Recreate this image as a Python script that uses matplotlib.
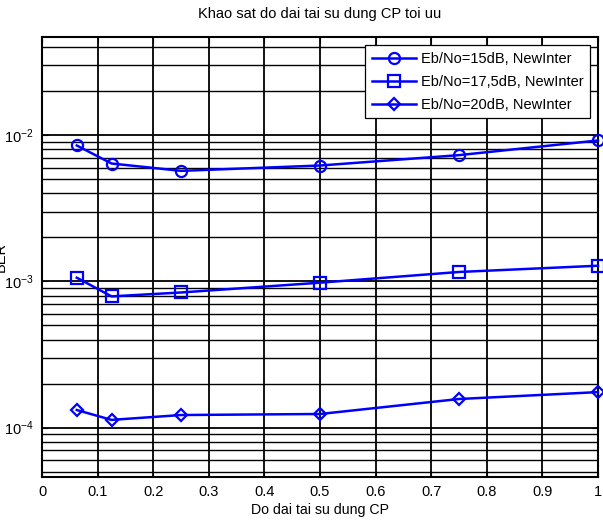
import matplotlib.pyplot as plt
from matplotlib.ticker import LogLocator, FixedLocator, FixedFormatter

plt.rcParams['font.family'] = ['Liberation Sans', 'DejaVu Sans']
plt.rcParams['mathtext.default'] = 'regular'
plt.rcParams['axes.unicode_minus'] = False

# CP reuse length vs BER
cp_len = [0.0625, 0.125, 0.25, 0.5, 0.75, 1.0]
ber_15 = [8.5e-3, 6.4e-3, 5.7e-3, 6.2e-3, 7.3e-3, 9.2e-3]
ber_175 = [1.06e-3, 7.9e-4, 8.4e-4, 9.8e-4, 1.16e-3, 1.28e-3]
ber_20 = [1.32e-4, 1.13e-4, 1.22e-4, 1.24e-4, 1.57e-4, 1.75e-4]
labels = ['Eb/No=15dB, NewInter', 'Eb/No=17,5dB, NewInter', 'Eb/No=20dB, NewInter']
markers = ['o', 's', 'D']

xticks = [0, 0.1, 0.2, 0.3, 0.4, 0.5, 0.6, 0.7, 0.8, 0.9, 1]
xticklabels = ['0', '0.1', '0.2', '0.3', '0.4', '0.5', '0.6', '0.7', '0.8', '0.9', '1']

fig = plt.figure(figsize=(6.03, 5.23), dpi=100)
ax = fig.add_axes([0.0697, 0.088, 0.922, 0.841])

for ys, m, lab in zip([ber_15, ber_175, ber_20], markers, labels):
    ms = 6.5 if m == 'D' else 8
    ax.semilogy(cp_len, ys, color='#0000ff', lw=1.8, marker=m, ms=ms,
                mfc='none', mec='#0000ff', mew=1.6, label=lab, clip_on=False, zorder=5)

ax.set_xlim(0, 1)
ax.set_ylim(4.6e-5, 4.68e-2)
ax.xaxis.set_major_locator(FixedLocator(xticks))
ax.xaxis.set_major_formatter(FixedFormatter(xticklabels))
ax.yaxis.set_major_locator(LogLocator(base=10, numticks=10))
ax.yaxis.set_minor_locator(LogLocator(base=10, subs=range(2, 10), numticks=20))

ax.grid(True, which='major', color='black', lw=1.3, ls='-')
ax.grid(True, which='minor', axis='y', color='black', lw=1.0, ls='-')
ax.tick_params(which='both', direction='in', top=True, right=True, labelsize=10.5,
               pad=6, length=4)
ax.tick_params(which='minor', length=2)
for s in ax.spines.values():
    s.set_linewidth(1.5)

ax.set_title('Khao sat do dai tai su dung CP toi uu', fontsize=10.5, pad=14)
ax.set_xlabel('Do dai tai su dung CP', fontsize=10.2, labelpad=3)
ax.set_ylabel('BER', fontsize=10.5)
ax.yaxis.set_label_coords(-0.062, 0.5)

leg = ax.legend(loc='upper right', fontsize=10.5, fancybox=False, framealpha=1,
                edgecolor='black', handlelength=3.0, borderaxespad=0.55,
                labelspacing=0.62, borderpad=0.45, handletextpad=0.35)
leg.get_frame().set_linewidth(0.9)
leg.set_zorder(10)

fig.savefig('out.png', dpi=100)
